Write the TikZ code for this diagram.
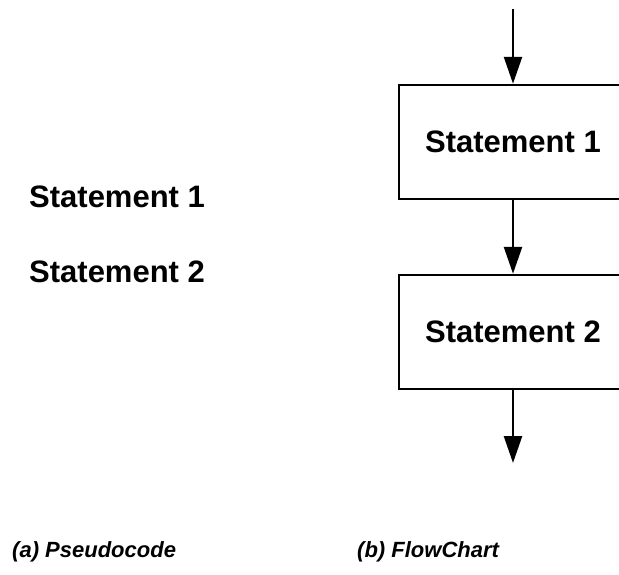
\documentclass[tikz,border=0pt]{standalone}
\usepackage{fontspec}
\setmainfont{Liberation Sans}
\usetikzlibrary{arrows.meta}
\tikzset{
  stmtbox/.style={draw, line width=2.5pt, minimum width=228pt, minimum height=114pt, font=\fontsize{31}{36}\selectfont\bfseries},
  stmttext/.style={anchor=base west, inner sep=0pt, font=\fontsize{31}{36}\selectfont\bfseries},
  captext/.style={anchor=base west, inner sep=0pt, font=\fontsize{22}{26}\selectfont\bfseries\itshape},
  flow/.style={-{Triangle[length=27pt,width=18pt]}, line width=2.5pt}
}
\begin{document}
\begin{tikzpicture}[x=1pt,y=-1pt]
  \useasboundingbox (0,0) rectangle (619,574);
  \clip (0,0) rectangle (619,574);

  % Define pseudocode
  \node[stmttext] (codeA) at (29,207) {Statement 1};
  \node[stmttext] (codeB) at (29,282) {Statement 2};

  % Define flowchart
  \coordinate (start) at (513,9);
  \node[stmtbox] (boxA) at (513,142) {Statement 1};
  \node[stmtbox] (boxB) at (513,332) {Statement 2};
  \coordinate (stop) at (513,463);

  % Draw arrows
  \draw[flow] (start) -- (boxA.north);
  \draw[flow] (boxA.south) -- (boxB.north);
  \draw[flow] (boxB.south) -- (stop);

  % Captions
  \node[captext] (capA) at (12,557) {(a) Pseudocode};
  \node[captext] (capB) at (357,557) {(b) FlowChart};
\end{tikzpicture}
\end{document}
